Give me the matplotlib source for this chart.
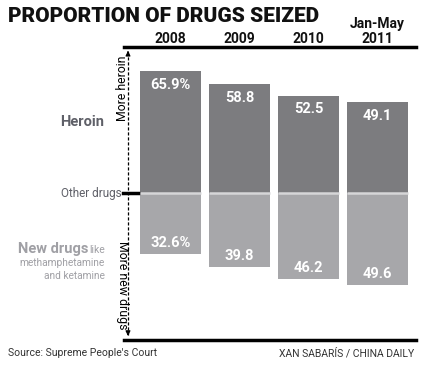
import matplotlib.pyplot as plt
import numpy as np

# data
years = ["2008", "2009", "2010", "Jan-May\n2011"]
heroin = [65.9, 58.8, 52.5, 49.1]
new_drugs = [32.6, 39.8, 46.2, 49.6]
heroin_labels = ["65.9%", "58.8", "52.5", "49.1"]
new_labels = ["32.6%", "39.8", "46.2", "49.6"]

dark = "#7c7c7f"
light = "#a7a7aa"
plt.rcParams['font.family'] = ['Roboto', 'DejaVu Sans']

fig = plt.figure(figsize=(4.28, 3.65), dpi=100)
ax = fig.add_axes([124 / 428, 1 - 340 / 365, 292 / 428, 293 / 365])

x = np.arange(len(years))
w = 0.885
ax.bar(x, heroin, width=w, color=dark, zorder=2)
ax.bar(x, [-v for v in new_drugs], width=w, color=light, zorder=2)
# thin light seam between the two parts of each bar
ax.hlines([0] * len(x), x - w / 2, x + w / 2, color="#d6d6d8", lw=1.8, zorder=3)

for xi, h, lab in zip(x, heroin, heroin_labels):
    ax.text(xi, h - 7.5, lab, ha="center", va="center", color="white",
            fontsize=10.5, fontweight="bold", zorder=4)
for xi, n, lab in zip(x, new_drugs, new_labels):
    ax.text(xi, -n + 6, lab, ha="center", va="center", color="white",
            fontsize=10.5, fontweight="bold", zorder=4)

ax.set_xlim(-0.674, 3.558)
ax.set_ylim(-79, 78.6)
ax.axis("off")

# top and bottom rules
ax.plot([0, 1], [1, 1], transform=ax.transAxes, color="black", lw=2.5, clip_on=False)
ax.plot([0, 1], [0, 0], transform=ax.transAxes, color="black", lw=2.5, clip_on=False)

# dashed scale with arrows
xd = -0.616
ax.plot([xd, xd], [-76.5, 76.5], color="black", lw=0.9, ls=(0, (2.5, 1.5)), clip_on=False)
ax.annotate("", xy=(xd, 78.0), xytext=(xd, 74),
            arrowprops=dict(arrowstyle="-|>", color="black", lw=0.8, mutation_scale=7))
ax.annotate("", xy=(xd, -78.3), xytext=(xd, -74),
            arrowprops=dict(arrowstyle="-|>", color="black", lw=0.8, mutation_scale=7))
ax.plot([-0.69, -0.47], [0, 0], color="black", lw=2.5, clip_on=False, zorder=5)

ax.text(-0.69, 74, "More heroin", rotation=90, ha="center", va="top",
        fontsize=8.8, color="black")
ax.text(-0.69, -25.5, "More new drugs", rotation=-90, ha="center", va="top",
        fontsize=8.8, color="black")

# left side labels
fig.text(104 / 428, 1 - 122 / 365, "Heroin", ha="right", va="center",
         fontsize=10.5, fontweight="bold", color="#5f6068")
fig.text(122 / 428, 1 - 193 / 365, "Other drugs", ha="right", va="center",
         fontsize=8.5, color="#5f6068")
fig.text(105 / 428, 1 - 250 / 365, "like", ha="right", va="center",
         fontsize=7.5, color="#a0a0a5")
fig.text(88 / 428, 1 - 249 / 365, "New drugs", ha="right", va="center",
         fontsize=10.5, fontweight="bold", color="#a0a0a5")
fig.text(105 / 428, 1 - 263 / 365, "methamphetamine", ha="right", va="center",
         fontsize=7.3, color="#a0a0a5")
fig.text(105 / 428, 1 - 276 / 365, "and ketamine", ha="right", va="center",
         fontsize=7.3, color="#a0a0a5")

# title and year headers
fig.text(8 / 428, 1 - 16 / 365, "PROPORTION OF DRUGS SEIZED", ha="left", va="center",
         fontsize=15, fontweight="black", color="#111111")
for xi, yr in zip(x, years):
    ax.text(xi, 79.2, yr, ha="center", va="bottom", fontsize=10,
            fontweight="bold", color="#111111", linespacing=1.05)

fig.text(8 / 428, 1 - 353 / 365, "Source: Supreme People's Court", ha="left", va="center",
         fontsize=7.5, color="#333333")
fig.text(414 / 428, 1 - 353 / 365, "XAN SABARÍS / CHINA DAILY", ha="right", va="center",
         fontsize=7.5, color="#333333")

fig.savefig("out.png", dpi=100)
